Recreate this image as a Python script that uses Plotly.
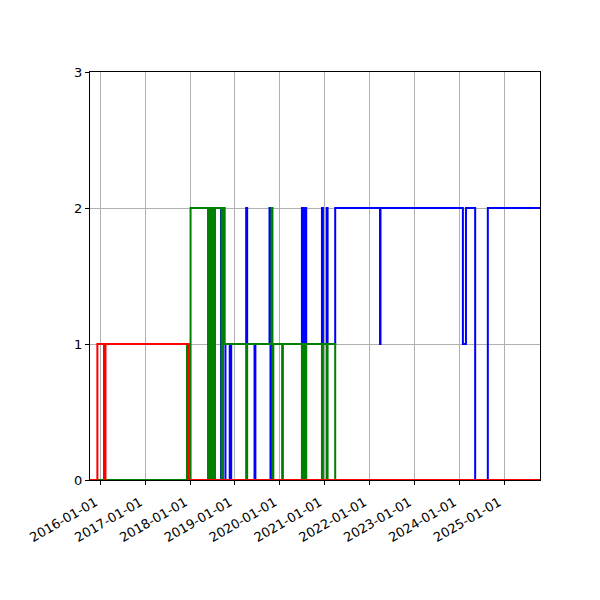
import plotly.graph_objects as go

# step series (value holds until the next date)
x_start = "2015-10-09"
x_end = "2025-10-21"

red_dates = [x_start, "2015-12-08", "2016-01-31", "2016-02-12", "2017-12-18", x_end]
red_vals = [0, 1, 0, 1, 0, 0]

green_dates = [x_start, "2017-12-07", "2017-12-19", "2018-01-05",
               "2018-05-31", "2018-06-12", "2018-06-24", "2018-07-07", "2018-07-15", "2018-07-23",
               "2018-09-14", "2018-09-26", "2018-10-10",
               "2019-04-03", "2019-04-11",
               "2019-10-26", "2019-11-03", "2019-11-10",
               "2020-01-21", "2020-01-27",
               "2020-06-30", "2020-07-08", "2020-07-14", "2020-07-21", "2020-07-27", "2020-08-04",
               "2020-12-10", "2020-12-18",
               "2021-01-17", "2021-01-25",
               "2021-03-28", x_end]
green_vals = [0, 1, 0, 2,
              0, 2, 0, 2, 0, 2,
              0, 2, 1,
              0, 1,
              2, 0, 1,
              0, 1,
              0, 1, 0, 1, 0, 1,
              0, 1,
              0, 1,
              0, 0]

blue_dates = [x_start, "2018-05-29", "2018-07-23", "2018-09-10", "2018-09-18",
              "2018-10-16", "2018-11-20", "2018-12-02",
              "2019-04-03", "2019-04-11",
              "2019-06-10", "2019-06-17",
              "2019-10-10", "2019-10-18", "2019-10-26",
              "2020-06-30", "2020-07-08", "2020-07-14", "2020-07-21", "2020-07-27", "2020-08-04",
              "2020-12-10", "2020-12-18",
              "2021-01-17", "2021-01-25",
              "2021-03-28",
              "2022-03-28", "2022-04-01",
              "2024-02-01", "2024-02-26",
              "2024-05-11", "2024-08-22", x_end]
blue_vals = [0, 2, 0, 2, 0,
             1, 0, 1,
             2, 1,
             0, 1,
             2, 0, 1,
             2, 1, 2, 1, 2, 1,
             2, 1,
             2, 1,
             2,
             1, 2,
             1, 2,
             0, 2, 2]

series = [
    (blue_dates, blue_vals, "#0000ff"),
    (green_dates, green_vals, "#008000"),
    (red_dates, red_vals, "#ff0000"),
]

fig = go.Figure()
for dates, vals, color in series:
    fig.add_trace(go.Scatter(x=dates, y=vals, mode="lines", line_shape="hv",
                             line=dict(color=color, width=2), showlegend=False,
                             cliponaxis=False))

axis_style = dict(showline=True, linecolor="black", linewidth=1, mirror=True,
                  ticks="outside", ticklen=4, tickcolor="black",
                  showgrid=True, gridcolor="#b0b0b0", gridwidth=0.8, zeroline=False)

fig.update_xaxes(range=[x_start, x_end], tick0="2016-01-01", dtick="M12",
                 tickformat="%Y-%m-%d", tickangle=-30,
                 ticklabelshift=-5, ticklabelstandoff=5, **axis_style)
fig.update_yaxes(range=[0, 3], tickvals=[0, 1, 2, 3], **axis_style)

# page body adds 8px, so margins are trimmed to land the frame at 90..540 / 72..480
fig.update_layout(width=600, height=600, plot_bgcolor="white", paper_bgcolor="white",
                  margin=dict(l=82, r=68, t=64, b=128),
                  font=dict(family="DejaVu Sans", size=13, color="black"))

fig.write_html("out.html")
